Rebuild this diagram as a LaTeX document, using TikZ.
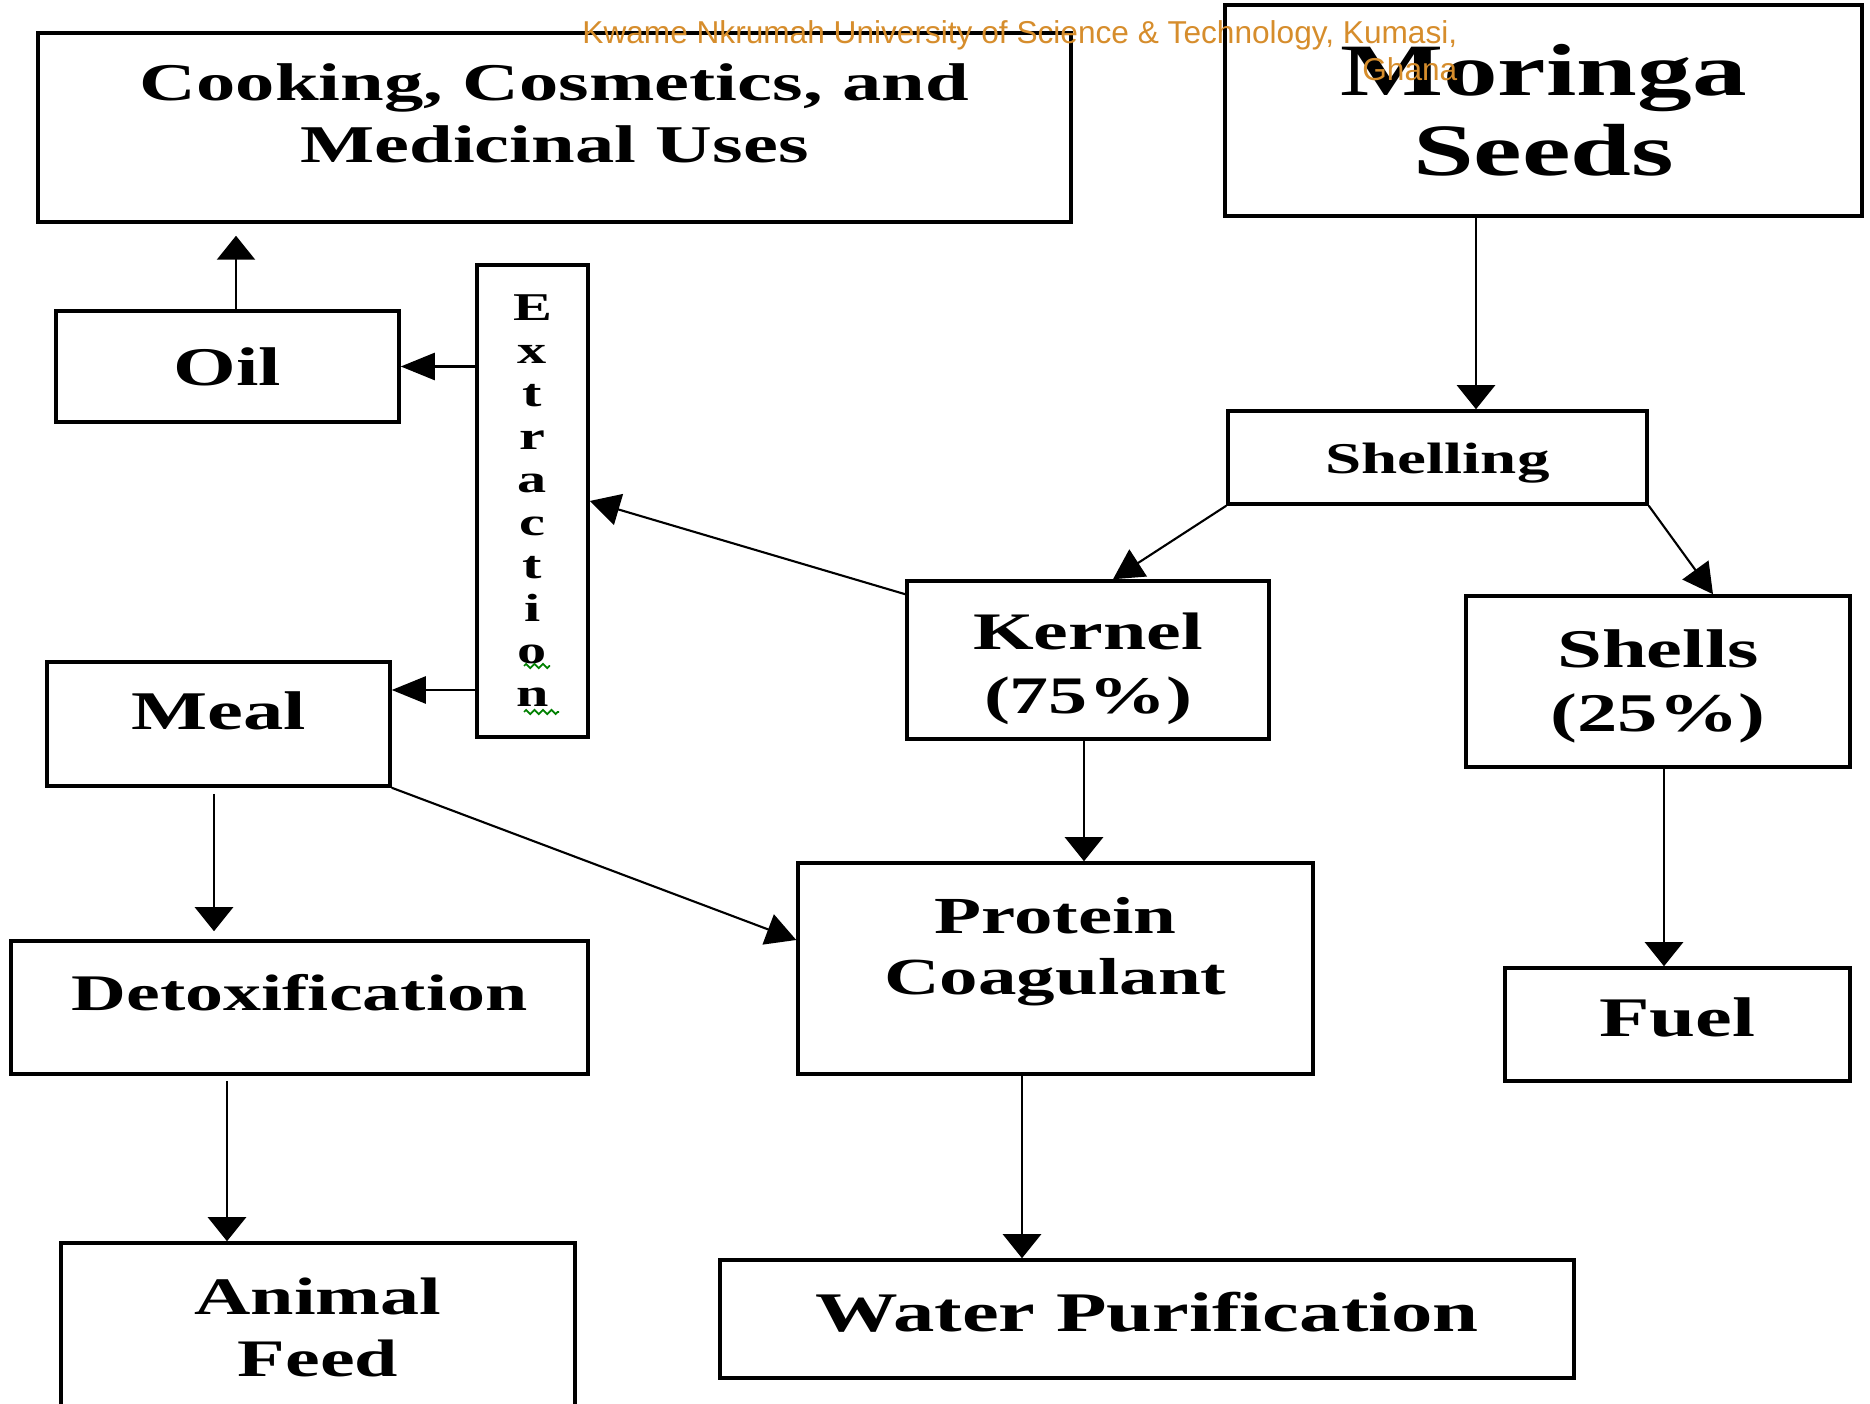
\documentclass[tikz,border=0pt]{standalone}
\usepackage{fontspec}
\usetikzlibrary{arrows.meta,decorations.pathmorphing}
\newfontfamily\boxfont{Liberation Serif}[FakeStretch=1.48]
\newfontfamily\wmfont{Liberation Sans}
\definecolor{wmorange}{RGB}{214,141,44}
\definecolor{spellgreen}{RGB}{0,128,0}
% invisible struts to nudge text inside a box
\newcommand{\dn}[1]{\rule[-#1]{0pt}{#1}}
\newcommand{\up}[1]{\rule{0pt}{#1}}

\begin{document}
\begin{tikzpicture}
\tikzstyle{box}=[draw,rectangle,line width=1pt,inner sep=0pt,align=center]
\tikzstyle{arrv}=[-{Triangle[length=0.24cm,width=0.38cm]},line width=0.7pt]
\tikzstyle{arrh}=[-{Triangle[length=0.34cm,width=0.27cm]},line width=0.7pt]
\tikzstyle{arrd}=[-{Triangle[length=0.3cm,width=0.32cm]},line width=0.6pt]
\tikzstyle{squiggle}=[spellgreen,line width=0.5pt,decorate,decoration={zigzag,segment length=2.4pt,amplitude=0.6pt}]
\tikzset{fs/.style 2 args={font=\boxfont\bfseries\fontsize{#1}{#2}\selectfont}}

\useasboundingbox (0,0) rectangle (18.7,-14.04);

% top row
\node[box,fs={15.1pt}{17.6pt},minimum width=10.33cm,minimum height=1.89cm] (cook) at (5.545,-1.275) {Cooking, Cosmetics, and\\Medicinal Uses\dn{0.28cm}};
\node[box,fs={21pt}{22.8pt},minimum width=6.37cm,minimum height=2.11cm] (moringa) at (15.435,-1.105) {Moringa\\Seeds};

% oil, extraction, meal
\node[box,fs={15.5pt}{17.6pt},minimum width=3.43cm,minimum height=1.11cm] (oil) at (2.275,-3.665) {Oil};
\node[box,fs={11.2pt}{12.2pt},minimum width=1.11cm,minimum height=4.72cm] (ext) at (5.325,-5.01) {E\\x\\t\\r\\a\\c\\t\\i\\o\\n};
\node[box,fs={15.5pt}{17.6pt},minimum width=3.43cm,minimum height=1.24cm] (meal) at (2.185,-7.24) {Meal\dn{0.26cm}};

% shelling branch
\node[box,fs={12.5pt}{14pt},minimum width=4.19cm,minimum height=0.93cm] (shelling) at (14.375,-4.575) {\up{0.42cm}Shelling};
\node[box,fs={15pt}{18.2pt},minimum width=3.62cm,minimum height=1.58cm] (kernel) at (10.88,-6.6) {\up{0.55cm}Kernel\\(75\%)};
\node[box,fs={15.5pt}{18.2pt},minimum width=3.84cm,minimum height=1.71cm] (shells) at (16.58,-6.815) {\up{0.47cm}Shells\\(25\%)};

% products
\node[box,fs={14.6pt}{17.6pt},minimum width=5.77cm,minimum height=1.33cm] (detox) at (2.995,-10.075) {Detoxification\dn{0.31cm}};
\node[box,fs={14.8pt}{17.6pt},minimum width=5.15cm,minimum height=2.11cm] (protein) at (10.555,-9.685) {Protein\\Coagulant\dn{0.45cm}};
\node[box,fs={15.9pt}{17.6pt},minimum width=3.45cm,minimum height=1.13cm] (fuel) at (16.775,-10.245) {Fuel\dn{0.14cm}};
\node[box,fs={15pt}{17.6pt},minimum width=5.14cm,minimum height=1.69cm] (animal) at (3.18,-13.275) {Animal\\Feed};
\node[box,fs={15.9pt}{17.6pt},minimum width=8.54cm,minimum height=1.18cm] (water) at (11.47,-13.19) {Water Purification\dn{0.14cm}};

% connectors
\coordinate (ms) at ([xshift=-0.675cm]moringa.south);
\draw[arrv] (ms) -- (ms |- shelling.north);
\draw[arrd] (shelling.south west) -- ([xshift=0.25cm]kernel.north);
\draw[arrd] (shelling.south east) -- ([xshift=0.55cm]shells.north);
\draw[arrd] ([yshift=-0.15cm]kernel.north west) -- (ext.east);
\draw[arrh] (oil.east -| ext.west) -- (oil.east);
\coordinate (me) at ([yshift=0.34cm]meal.east);
\draw[arrh] (me -| ext.west) -- (me);
\coordinate (oc) at ([xshift=0.085cm]oil.north);
\draw[arrv,shorten >=0.12cm] (oc) -- (oc |- cook.south);
\coordinate (kp) at ([xshift=-0.04cm]kernel.south);
\draw[arrv] (kp) -- (kp |- protein.north);
\draw[arrd] (meal.south east) -- ([yshift=0.285cm]protein.west);
\coordinate (md) at ([xshift=-0.045cm]meal.south);
\draw[arrv,shorten <=0.06cm,shorten >=0.08cm] (md) -- (md |- detox.north);
\coordinate (da) at ([xshift=-0.725cm]detox.south);
\draw[arrv,shorten <=0.05cm] (da) -- (da |- animal.north);
\coordinate (pw) at ([xshift=-0.335cm]protein.south);
\draw[arrv] (pw) -- (pw |- water.north);
\coordinate (sf) at ([xshift=0.06cm]shells.south);
\draw[arrv] (sf) -- (sf |- fuel.north);

% spell-check marks
\draw[squiggle] ([shift={(-0.085,-1.65)}]ext.center) -- ++(0.26,0);
\draw[squiggle] ([shift={(-0.085,-2.11)}]ext.center) -- ++(0.35,0);

% watermark
\node[anchor=north east,inner sep=0pt,align=right,text=wmorange,font=\wmfont\fontsize{9pt}{10.5pt}\selectfont] (wm) at (14.58,-0.2) {Kwame Nkrumah University of Science \& Technology, Kumasi,\\Ghana};
\end{tikzpicture}
\end{document}
